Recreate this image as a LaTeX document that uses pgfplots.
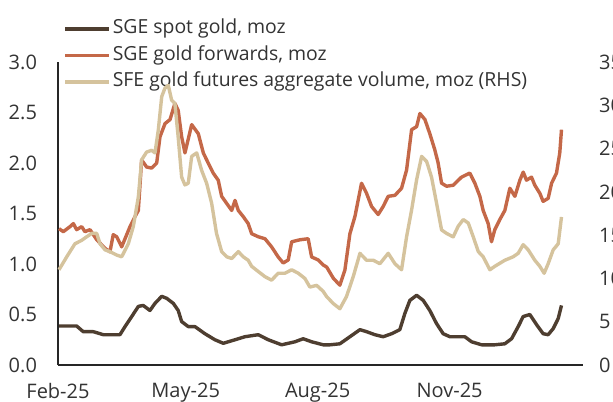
\documentclass[border=0pt]{standalone}
\usepackage{fontspec}
\setmainfont{Open Sans}
\usepackage{pgfplots}
\usepackage{pgfplotstable}
\pgfplotsset{compat=1.18}
\definecolor{spotc}{RGB}{78,62,48}
\definecolor{fwdc}{RGB}{196,104,72}
\definecolor{futc}{RGB}{213,195,157}

% day (0 = 1 Feb 2025), value (moz)
\pgfplotstableread{
day val
0.7 0.386
13.0 0.386
17.6 0.33
24.6 0.33
31.6 0.30
43.2 0.30
46.7 0.38
51.4 0.48
56.0 0.58
59.4 0.59
64.1 0.54
67.6 0.61
72.3 0.68
75.8 0.66
80.4 0.61
83.8 0.54
86.2 0.43
90.8 0.38
95.5 0.38
102.4 0.31
109.4 0.25
115.2 0.215
123.4 0.25
130.3 0.28
139.6 0.30
146.6 0.25
155.9 0.20
165.2 0.23
170.9 0.26
176.8 0.23
184.9 0.20
189.6 0.20
196.5 0.21
203.5 0.28
210.5 0.35
215.1 0.33
220.9 0.30
226.7 0.28
232.6 0.31
238.3 0.35
241.8 0.51
245.3 0.64
250.0 0.69
254.6 0.64
259.2 0.54
263.9 0.41
268.5 0.31
273.2 0.28
283.6 0.28
288.3 0.23
295.3 0.20
304.5 0.20
311.5 0.21
316.2 0.26
320.8 0.38
324.3 0.48
328.9 0.50
333.6 0.40
338.2 0.31
341.7 0.30
345.2 0.36
348.7 0.46
351.0 0.59
}\spottab

\pgfplotstableread{
day val
0.7 1.35
3.7 1.32
8.4 1.37
10.7 1.40
13.0 1.34
16.5 1.37
18.8 1.32
22.3 1.34
27.0 1.24
32.8 1.155
36.2 1.12
38.5 1.29
40.9 1.27
44.4 1.17
50.2 1.37
53.7 1.47
56.0 1.53
58.3 2.03
61.8 1.96
65.3 1.95
68.8 2.00
71.1 2.26
74.6 2.39
78.1 2.43
81.5 2.59
83.8 2.52
86.2 2.26
88.5 2.10
93.2 2.38
97.8 2.29
101.3 2.10
104.7 2.00
108.2 1.90
111.7 1.83
114.1 1.67
117.6 1.60
121.1 1.53
123.4 1.63
125.7 1.53
129.1 1.47
132.6 1.40
135.0 1.30
139.6 1.27
144.3 1.25
148.9 1.17
153.5 1.07
157.0 1.01
160.5 1.04
162.9 1.22
168.7 1.24
174.4 1.25
176.8 1.07
181.4 1.04
184.9 0.99
187.3 0.97
191.9 0.86
196.5 0.79
200.0 0.94
203.5 1.30
207.0 1.47
211.6 1.80
215.1 1.70
218.6 1.57
223.2 1.49
226.7 1.57
230.2 1.67
234.9 1.68
239.5 1.75
243.0 1.93
246.5 2.33
250.0 2.36
252.3 2.49
255.8 2.43
259.2 2.29
262.7 2.13
265.0 2.00
267.4 1.80
270.9 1.77
275.5 1.78
281.3 1.86
287.1 1.90
290.6 1.80
294.1 1.67
296.4 1.53
299.9 1.40
302.2 1.22
304.5 1.34
308.0 1.44
311.5 1.53
315.0 1.75
318.5 1.67
322.0 1.83
324.3 1.91
326.6 1.83
330.1 1.86
332.4 1.78
335.9 1.70
338.2 1.62
341.7 1.65
344.1 1.80
347.5 1.90
349.8 2.10
351.0 2.33
}\fwdtab

\pgfplotstableread{
day val
0.7 11.0
6.1 12.5
11.8 14.0
16.5 14.4
19.9 14.8
23.5 15.2
27.0 15.2
29.3 14.0
32.8 13.3
36.2 13.1
40.9 12.7
44.4 12.5
49.0 14.0
52.5 16.0
56.0 19.4
58.3 23.7
61.8 24.6
65.3 24.8
67.6 24.5
69.9 27.1
72.3 31.0
74.6 32.0
76.9 32.3
79.2 30.6
81.5 30.2
83.8 26.3
86.2 21.7
88.5 20.8
90.8 21.0
93.2 24.1
96.7 24.5
100.1 22.5
103.6 21.0
107.1 18.7
110.5 15.2
114.1 13.1
117.6 12.5
121.1 12.3
125.7 13.1
129.1 12.5
132.6 12.1
135.0 11.4
139.6 10.8
144.3 10.2
148.9 9.8
153.5 10.6
158.2 10.6
162.9 11.0
167.5 10.6
172.1 10.0
175.6 9.0
180.3 9.2
184.9 8.5
187.3 7.9
191.9 7.1
196.5 6.5
201.1 7.9
205.8 10.2
210.5 12.9
215.1 12.1
219.8 12.1
224.4 11.7
230.2 12.9
234.9 11.7
239.5 11.0
243.0 14.8
246.5 17.9
250.0 21.4
253.5 24.1
257.0 23.5
260.4 21.7
263.9 18.7
267.4 15.6
270.9 15.2
275.5 14.8
278.9 16.0
282.5 16.8
286.0 16.4
289.5 14.8
293.0 13.1
296.4 12.5
301.1 11.0
304.5 11.4
311.5 12.1
317.3 12.5
320.8 12.9
324.3 13.9
327.8 13.3
332.4 12.1
335.9 11.4
338.9 10.6
341.7 11.7
345.2 13.3
348.7 14.0
351.0 17.1
}\futtab

\begin{document}
\begin{tikzpicture}
\useasboundingbox (0,0) rectangle (306.5pt,200.5pt);
\clip (0,0) rectangle (306.5pt,200.5pt);
\pgfplotsset{
  common/.style={
    at={(29pt,18pt)}, anchor=south west,
    scale only axis, width=262.5pt, height=151.5pt,
    xmin=0, xmax=366,
    major tick length=0pt,
    tick label style={font=\fontsize{10}{11}\selectfont, text=black!80},
    /pgf/number format/assume math mode=true,
    clip=false,
  },
}
\begin{axis}[common,
  ymin=0, ymax=3,
  axis x line*=bottom, axis y line*=left,
  axis line style={black!85, line width=0.6pt},
  xtick={0,89,181,273}, xticklabels={Feb-25,May-25,Aug-25,Nov-25},
  xticklabel style={yshift=-5.5pt},
  ytick={0,0.5,1,1.5,2,2.5,3},
  yticklabel style={/pgf/number format/.cd, fixed, fixed zerofill, precision=1, /tikz/.cd, xshift=-7pt},
  legend style={at={(axis description cs:0.0095,1.1525)}, anchor=north west,
    draw=none, fill=none, inner sep=0pt, row sep=0.55pt,
    font=\fontsize{9.7}{10.5}\selectfont, text=black!80,
    nodes={inner sep=0pt, inner ysep=2.2pt, text height=6.5pt, text depth=1.8pt}},
  legend cell align=left,
  legend image code/.code={\draw[#1, line width=1.7pt] (0pt,0pt) -- (22pt,0pt);},
]
\addplot[spotc, line width=1.7pt, line join=round] table[x=day,y=val]{\spottab};
\addlegendentry{\hspace{1pt}SGE spot gold, moz}
\addplot[fwdc, line width=1.7pt, line join=round] table[x=day,y=val]{\fwdtab};
\addlegendentry{\hspace{1pt}SGE gold forwards, moz}
\addlegendimage{futc, line width=1.7pt}
\addlegendentry{\hspace{1pt}SFE gold futures aggregate volume, moz (RHS)}
\end{axis}
\begin{axis}[common,
  ymin=0, ymax=35,
  axis x line=none, axis y line*=right,
  y axis line style={draw=none},
  ytick={0,5,10,15,20,25,30,35},
  yticklabel style={anchor=west, xshift=4.5pt},
]
\addplot[futc, line width=1.7pt, line join=round] table[x=day,y=val]{\futtab};
\end{axis}
\end{tikzpicture}
\end{document}
